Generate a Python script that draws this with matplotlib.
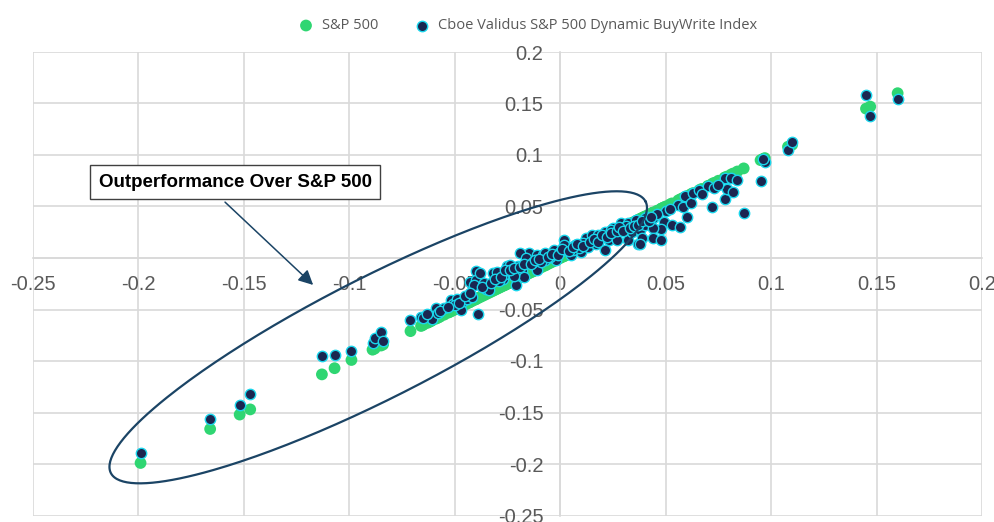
import numpy as np
import matplotlib
matplotlib.use("Agg")
import matplotlib.pyplot as plt
from matplotlib.ticker import MultipleLocator, FuncFormatter

# monthly returns: S&P 500 (x) and Cboe Validus S&P 500 Dynamic BuyWrite Index (y)
sp500 = [-0.199, -0.166, -0.152, -0.147, -0.113, -0.107, -0.099, -0.089, -0.088, -0.085,
         -0.084, -0.071, -0.066, -0.062, -0.061, -0.059, -0.052, -0.051, -0.049, -0.047,
         -0.039, -0.058, -0.055, -0.050, -0.046, -0.044, -0.042,
         -0.040, -0.043, -0.040, -0.041, -0.038, -0.036, -0.035, -0.034, -0.032, -0.030,
         -0.027, -0.026, -0.025, -0.024, -0.023, -0.021, -0.021, -0.020, -0.018, -0.017,
         -0.015, -0.019, -0.011, -0.008, -0.007, -0.013, -0.011, -0.016, -0.013, -0.007,
         -0.003, -0.002, -0.029, -0.022, -0.009, -0.005,
         0.002, 0.003, 0.005, 0.007, 0.010, 0.012, 0.013, 0.015, 0.017, 0.019,
         0.021, 0.021, 0.023, 0.025, 0.026, 0.027, 0.029, 0.029, 0.032, 0.032,
         0.034, 0.036, 0.037, 0.038, 0.040, 0.041, 0.002, 0.000, 0.006, 0.009,
         0.011, 0.018, 0.024, 0.031,
         0.040, 0.044, 0.050, 0.049, 0.053, 0.057, 0.048, 0.044, 0.039, 0.044,
         0.048, 0.038, 0.056, 0.059, 0.058, 0.062, 0.060, 0.063, 0.066, 0.070,
         0.072, 0.078, 0.078, 0.081, 0.084, 0.079, 0.082, 0.087, 0.095, 0.097,
         0.096, 0.067, 0.073, 0.075, 0.046, 0.052,
         0.108, 0.110, 0.145, 0.147, 0.160]
validus = [-0.189, -0.156, -0.143, -0.132, -0.095, -0.094, -0.090, -0.083, -0.078, -0.072,
           -0.081, -0.060, -0.057, -0.055, -0.059, -0.049, -0.041, -0.045, -0.040, -0.050,
           -0.054, -0.053, -0.049, -0.046, -0.042, -0.040, -0.038,
           -0.013, -0.023, -0.021, -0.026, -0.015, -0.024, -0.030, -0.031, -0.015, -0.014,
           -0.020, -0.016, -0.008, -0.007, -0.015, -0.011, -0.026, -0.008, -0.013, -0.018,
           0.005, 0.005, 0.003, 0.003, -0.002, -0.005, -0.012, 0.000, -0.004, 0.005,
           0.008, -0.002, -0.022, -0.017, -0.004, 0.001,
           0.017, 0.011, 0.003, 0.013, 0.006, 0.019, 0.011, 0.022, 0.014, 0.019,
           0.025, 0.008, 0.017, 0.029, 0.024, 0.017, 0.034, 0.029, 0.017, 0.034,
           0.025, 0.037, 0.014, 0.027, 0.032, 0.040, 0.013, 0.006, 0.008, 0.010,
           0.015, 0.022, 0.027, 0.031,
           0.039, 0.039, 0.046, 0.035, 0.032, 0.030, 0.028, 0.029, 0.019, 0.019,
           0.017, 0.014, 0.051, 0.060, 0.050, 0.053, 0.040, 0.063, 0.066, 0.070,
           0.050, 0.057, 0.078, 0.078, 0.076, 0.067, 0.064, 0.044, 0.075, 0.093,
           0.096, 0.062, 0.068, 0.071, 0.043, 0.048,
           0.105, 0.113, 0.158, 0.138, 0.154]

# the dense middle of the cloud
sp500_mid = [-0.065, -0.063, -0.057, -0.053, -0.048, -0.045, -0.043, -0.037, -0.033, -0.031,
             -0.028, -0.026, -0.024, -0.022, -0.019, -0.017, -0.014, -0.012, -0.010, -0.006,
             -0.004, -0.001, 0.001, 0.004, 0.006, 0.008, 0.011, 0.014, 0.016, 0.018,
             0.020, 0.022, 0.024, 0.027, 0.028, 0.030, 0.033, 0.035, 0.037, 0.039,
             0.042, 0.043]
validus_mid = [-0.058, -0.054, -0.051, -0.048, -0.044, -0.037, -0.034, -0.028, -0.024, -0.020,
               -0.018, -0.012, -0.012, -0.010, -0.009, -0.006, -0.006, -0.002, -0.001, 0.001,
               0.004, 0.003, 0.009, 0.007, 0.011, 0.014, 0.012, 0.016, 0.018, 0.016,
               0.022, 0.020, 0.024, 0.026, 0.030, 0.026, 0.029, 0.031, 0.032, 0.036,
               0.036, 0.040]

x_all = sp500 + sp500_mid
y_all = validus + validus_mid
assert len(x_all) == len(y_all)

green = '#2fd672'
navy = '#1b2650'
cyan = '#1ad6ec'
grid_c = '#d9d9d9'
label_c = '#595959'
ell_c = '#1b4465'

fig = plt.figure(figsize=(9.95, 5.22), dpi=100)
ax = fig.add_axes([33/995, 6.5/522, 949/995, 463.5/522])

ax.scatter(x_all, x_all, s=72, color=green, edgecolors='none', zorder=3, label='S&P 500')
ax.scatter(x_all, y_all, s=56, color=navy, edgecolors=cyan, linewidths=1.0, zorder=4,
           label='Cboe Validus S&P 500 Dynamic BuyWrite Index')

ax.set_xlim(-0.25, 0.2)
ax.set_ylim(-0.25, 0.2)
ax.xaxis.set_major_locator(MultipleLocator(0.05))
ax.yaxis.set_major_locator(MultipleLocator(0.05))

def fmt(v, p):
    if abs(v) < 1e-9:
        return '0'
    return '%g' % round(v, 2)

ax.xaxis.set_major_formatter(FuncFormatter(fmt))
ax.yaxis.set_major_formatter(FuncFormatter(fmt))
ax.grid(True, color=grid_c, lw=1.2, zorder=0)
ax.set_axisbelow(True)
for s in ['top', 'right']:
    ax.spines[s].set_visible(False)
for s in ['left', 'bottom']:
    ax.spines[s].set_position('zero')
    ax.spines[s].set_color(grid_c)
    ax.spines[s].set_linewidth(1.2)
ax.tick_params(length=0, labelsize=14.5, labelcolor=label_c)
ax.tick_params(axis='x', pad=12)
ax.tick_params(axis='y', pad=12)
for t in ax.get_xticklabels() + ax.get_yticklabels():
    t.set_fontfamily('Liberation Sans')
    t.set_zorder(5)

# ellipse around the downside months
t = np.linspace(0, 2*np.pi, 300)
cx, cy = -0.0863, -0.0770
mx, my = 0.1268, 0.1317
nx, ny = -0.0128, 0.0525
ax.plot(cx + np.cos(t)*mx + np.sin(t)*nx, cy + np.cos(t)*my + np.sin(t)*ny,
        color=ell_c, lw=1.6, zorder=6, clip_on=False)

ax.annotate('', xy=(-0.1162, -0.028), xytext=(-0.1599, 0.0561),
            arrowprops=dict(arrowstyle='-|>', color=ell_c, lw=1.1,
                            mutation_scale=22), zorder=6)
ax.text(-0.1542, 0.0735, 'Outperformance Over S&P 500', ha='center', va='center',
        fontsize=13.5, fontweight='bold', family='Liberation Sans', zorder=7,
        bbox=dict(boxstyle='square,pad=0.45', fc='white', ec='#404040', lw=1))

fig.legend(loc='upper center', bbox_to_anchor=(0.527, 0.99), ncol=2, frameon=False,
           columnspacing=2.0, handletextpad=0.1, labelcolor=label_c,
           prop={'family': 'Open Sans', 'size': 10.5})

fig.savefig('out.png', dpi=100)
